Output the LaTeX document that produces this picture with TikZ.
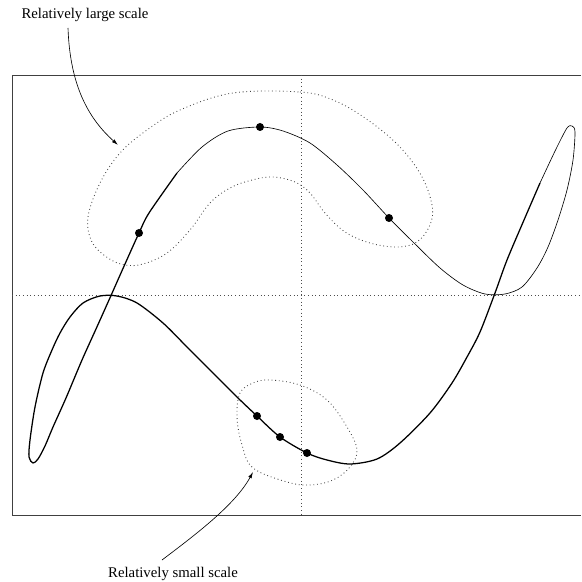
\documentclass[tikz,border=0pt]{standalone}
\usepackage{fontspec}
\setmainfont{Liberation Serif}
\usetikzlibrary{arrows.meta}
\tikzset{
  frameline/.style={draw=black!75, line width=0.7pt},
  axisline/.style={draw=black!70, line width=0.6pt, dotted},
  thincurve/.style={draw=black, line width=0.45pt, line join=round},
  boldcurve/.style={draw=black, line width=0.9pt, line join=round},
  regionline/.style={draw=black!75, line width=0.6pt, dotted},
  samplept/.style={circle, fill=black, inner sep=0pt, minimum size=0.2cm},
  scalelabel/.style={font=\fontsize{10.5}{12}\selectfont, inner sep=0pt},
  pointarr/.style={-{Latex[length=4.5pt, width=2.6pt]}, line width=0.45pt, black},
}
\begin{document}
\begin{tikzpicture}[x=0.025cm, y=-0.025cm]
  \useasboundingbox (0,0) rectangle (581,582);
  \clip (0,0) rectangle (581,582);

  % frame and axes
  \draw[frameline] (581,75) -- (12,75) -- (12,515) -- (581,515);
  \draw[axisline] (301,75) -- (301,515);
  \draw[axisline] (12,295) -- (581,295);

  % regions
  \draw[regionline] plot[smooth cycle, tension=0.6] coordinates {
    (233,93) (300,92) (333,100) (365,118) (398,145) (421,175) (432,205)
    (430,225) (417,242) (397,247) (370,243) (345,232) (325,213) (310,193)
    (295,182) (273,177) (252,180) (230,188) (210,203) (190,230) (167,253)
    (143,264) (125,265) (108,258) (92,242) (88,217) (100,183) (120,153)
    (147,130) (180,110)};
  \draw[regionline] plot[smooth cycle, tension=0.6] coordinates {
    (270,380) (300,385) (327,400) (347,427) (357,450) (350,467) (333,480)
    (310,485) (287,482) (253,468) (242,445) (237,417) (240,393) (253,383)};

  % curve
  \draw[thincurve] plot[smooth, tension=0.5] coordinates {
    (177,173) (202,147) (228,131) (260,127) (283,131) (310,143) (337,165)
    (363,190) (389,218) (413,242) (440,268) (463,285) (485,294) (505,294)
    (522,287) (537,268) (548,247) (558,220) (567,190) (573,160) (575,132)
    (572,126) (567,128) (557,147) (547,168) (540,183)};
  \draw[boldcurve] plot[smooth, tension=0.5] coordinates {
    (540,183) (524,220) (507,260) (495,293) (480,332) (467,357) (452,383)
    (430,413) (400,443) (377,459) (350,464) (327,460) (307,453) (280,437)
    (257,416) (237,397) (213,373) (187,347) (163,323) (137,303) (117,296)
    (100,296) (83,303) (70,317) (60,333) (52,350) (43,373) (35,407)
    (30,440) (29,457) (33,463) (38,459) (45,446) (53,427) (66,398)
    (82,360) (96,329) (109,300) (125,264) (139,233) (149,213) (177,173)};

  \node[samplept] (p1) at (139,233) {};
  \node[samplept] (p2) at (260,127) {};
  \node[samplept] (p3) at (389,218) {};
  \node[samplept] (q1) at (257,416) {};
  \node[samplept] (q2) at (280,437) {};
  \node[samplept] (q3) at (307,453) {};

  % labels
  \node[scalelabel] (largelbl) at (85,15) {Relatively large scale};
  \node[scalelabel] (smalllbl) at (173,574) {Relatively small scale};
  \coordinate (largefrom) at (68,28);
  \coordinate (largeto) at (118,145);
  \coordinate (smallfrom) at (162,560);
  \coordinate (smallto) at (253,472);
  \draw[pointarr] (largefrom) .. controls (70,85) and (88,118) .. (largeto);
  \draw[pointarr] (smallfrom) .. controls (195,535) and (235,505) .. (smallto);
\end{tikzpicture}
\end{document}
